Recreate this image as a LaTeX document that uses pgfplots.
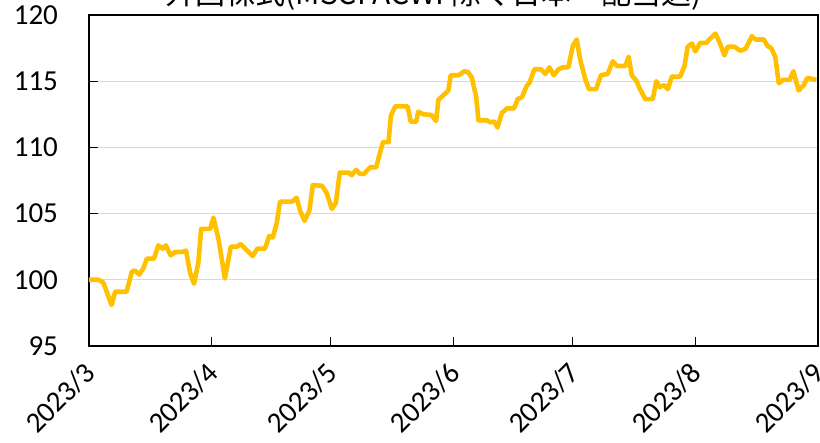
\documentclass[border=0pt]{standalone}
\usepackage{pgfplots}
\pgfplotsset{compat=1.18}
\usepackage{fontspec}
\setmainfont{Carlito}
\newfontfamily\cjk{Noto Sans CJK JP}
\definecolor{lineor}{HTML}{FFC000}
\definecolor{gridg}{HTML}{D9D9D9}
\begin{document}
\begin{tikzpicture}
\begin{axis}[
  at={(0,0)}, anchor=south west,
  scale only axis, width=364.5pt, height=165.5pt,
  xmin=0, xmax=184, ymin=95, ymax=120,
  xtick={0,31,61,92,122,153,184},
  xticklabels={2023/3,2023/4,2023/5,2023/6,2023/7,2023/8,2023/9},
  ytick={95,100,105,110,115,120},
  /pgf/number format/assume math mode=true,
  tick align=inside, tick pos=left,
  major tick length=4.5pt,
  tick style={black, line width=0.6pt},
  ymajorgrids, grid style={gridg, line width=0.6pt},
  axis line style={black, line width=0.7pt},
  ticklabel style={font=\fontsize{14.5}{16}\selectfont},
  yticklabel style={anchor=east, xshift=-12pt},
  xticklabel style={xshift=3.2pt, yshift=-8.5pt, rotate=45, anchor=east},
  clip=false,
]
\addplot[lineor, line width=2.3pt, line join=round, no marks] coordinates {
(0,100.0) (2.4,100.0) (3.6,99.8) (5.7,98.1) (6.6,99.1) (9.5,99.1) (10.8,100.6) (11.6,100.7)
(12.7,100.4) (13.7,100.85) (14.6,101.6) (16.4,101.6) (17.5,102.6) (18.6,102.35) (19.4,102.6)
(20.6,101.85) (21.7,102.1) (23.4,102.1) (24.5,102.2) (25.5,100.55) (26.5,99.7) (27.6,101.3)
(28.3,103.85) (30.6,103.85) (31.4,104.7) (32.7,103.05) (34.3,100.1) (35.8,102.5) (37.3,102.5)
(38.3,102.7) (39.8,102.25) (41.3,101.8) (42.5,102.35) (44.4,102.35) (45.5,103.3) (46.4,103.2)
(47.4,104.3) (48.2,105.9) (51.2,105.9) (52.4,106.2) (53.3,105.2) (54.4,104.45) (55.6,105.2)
(56.5,107.15) (58.8,107.1) (60.0,106.55) (61.3,105.35) (62.3,105.8) (63.3,108.1) (65.5,108.1)
(66.3,107.9) (67.4,108.3) (68.4,108.0) (69.4,108.0) (71.0,108.5) (72.5,108.5) (73.3,109.45)
(74.2,110.4) (75.6,110.4) (76.2,112.4) (77.3,113.1) (80.4,113.1) (81.2,111.95) (82.6,111.95)
(83.1,112.7) (84.4,112.5) (86.4,112.45) (87.6,112.0) (88.2,113.6) (89.5,113.95) (90.7,114.3)
(91.3,115.45) (93.3,115.45) (94.7,115.75) (95.6,115.7) (96.6,115.3) (97.7,113.85) (98.3,112.05)
(100.4,112.05) (101.3,111.9) (102.3,111.95) (103.1,111.5) (104.2,112.6) (105.5,112.95)
(107.3,112.95) (108.2,113.65) (109.3,113.8) (110.4,114.6) (111.2,114.9) (112.4,115.9)
(114.1,115.9) (115.2,115.55) (116.2,116.05) (117.3,115.45) (118.5,115.9) (119.6,116.05)
(121.0,116.05) (122.1,117.65) (123.1,118.15) (124.0,116.6) (125.2,115.2) (126.2,114.4)
(128.0,114.4) (129.2,115.45) (130.9,115.55) (132.2,116.5) (133.3,116.15) (135.4,116.15)
(136.2,116.85) (137.0,115.45) (138.1,115.05) (139.1,114.4) (140.4,113.65) (142.3,113.65)
(143.2,115.0) (144.0,114.55) (145.2,114.7) (146.1,114.4) (147.1,115.35) (149.2,115.35)
(150.3,116.15) (151.1,117.6) (152.2,117.85) (153.0,117.25) (154.3,117.9) (155.8,117.9)
(156.6,118.15) (158.1,118.6) (159.2,117.9) (160.4,116.95) (161.2,117.6) (162.9,117.6)
(164.4,117.3) (165.7,117.45) (166.5,117.9) (167.3,118.4) (168.2,118.15) (170.3,118.15)
(171.3,117.65) (172.2,117.5) (173.2,116.85) (174.1,114.85) (175.2,115.1) (176.8,115.1)
(177.8,115.75) (179.1,114.3) (180.4,114.7) (181.3,115.25) (183.6,115.1)
};
\end{axis}
\node[anchor=base, font=\cjk\fontsize{15}{18}\selectfont, inner sep=0pt] at (172.25pt,170.5pt) {外国株式(MSCI ACWI 除く日本・配当込)};
\pgfresetboundingbox
\useasboundingbox (-44.5pt,-48.5pt) rectangle (365.5pt,173pt);
\end{tikzpicture}
\end{document}
